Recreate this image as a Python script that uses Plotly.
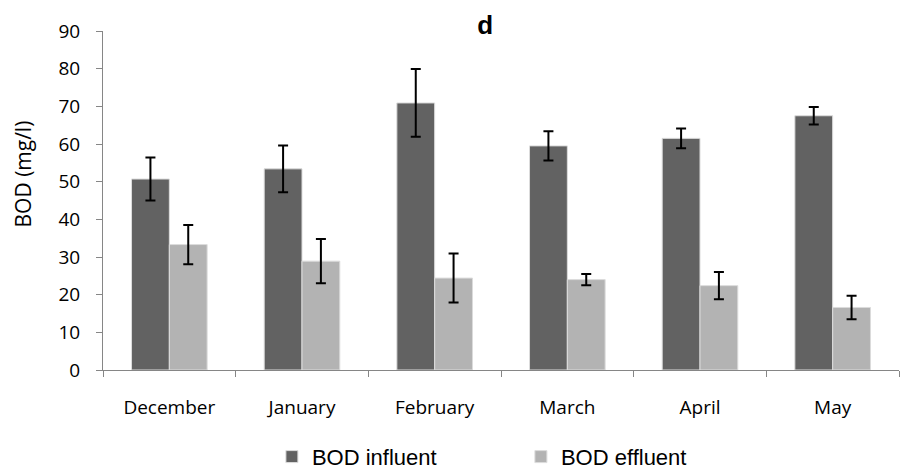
import plotly.graph_objects as go

months = ["December", "January", "February", "March", "April", "May"]
influent = [50.7, 53.4, 70.9, 59.5, 61.5, 67.5]
influent_err = [5.7, 6.2, 9.0, 3.9, 2.6, 2.3]
effluent = [33.3, 28.9, 24.4, 24.0, 22.4, 16.6]
effluent_err = [5.2, 5.9, 6.5, 1.5, 3.6, 3.1]
y_ticks = [0, 10, 20, 30, 40, 50, 60, 70, 80, 90]

fig = go.Figure()
fig.add_trace(go.Bar(
    x=months, y=influent, name="BOD influent",
    marker=dict(color="#626262", line=dict(color="#dcdcdc", width=1)),
    error_y=dict(type="data", array=influent_err, color="black", thickness=2, width=5),
))
fig.add_trace(go.Bar(
    x=months, y=effluent, name="BOD effluent",
    marker=dict(color="#b3b3b3", line=dict(color="#dcdcdc", width=1)),
    error_y=dict(type="data", array=effluent_err, color="black", thickness=2, width=5),
))

fig.update_layout(
    width=903, height=469,
    margin=dict(l=103, r=4, t=31, b=99, autoexpand=False),
    paper_bgcolor="white", plot_bgcolor="white",
    barmode="group", bargap=0.43, bargroupgap=0,
    title=dict(text="<b>d</b>", x=0.48, xanchor="center", xref="paper",
               y=0.947, yanchor="middle", yref="container",
               font=dict(family="Liberation Sans", size=26, color="black")),
    legend=dict(orientation="h", x=0.525, xanchor="center",
                y=0.026, yanchor="middle", yref="container",
                font=dict(family="Liberation Sans", size=22, color="black"),
                entrywidth=204, entrywidthmode="pixels", itemwidth=30),
    font=dict(family="Open Sans", size=19, color="black"),
    showlegend=True,
    annotations=[dict(text="BOD (mg/l)", textangle=-90, xref="paper", yref="paper",
                      x=-0.1, xanchor="center", y=0.578, yanchor="middle",
                      showarrow=False,
                      font=dict(family="Open Sans", size=21, color="black"))],
)
fig.update_xaxes(
    showline=True, linecolor="#868686", linewidth=1,
    ticks="outside", tickson="boundaries", ticklen=6, tickcolor="#868686",
    ticklabelstandoff=20, showgrid=False,
    tickfont=dict(family="Open Sans", size=19, color="black"),
)
fig.update_yaxes(
    range=[0, 90], tickvals=y_ticks, showline=True, linecolor="#868686", linewidth=1,
    ticks="outside", ticklen=6, tickcolor="#868686", ticklabelstandoff=12,
    showgrid=False, zeroline=False,
    tickfont=dict(family="Open Sans", size=19, color="black"),
)

fig.write_html("out.html")
